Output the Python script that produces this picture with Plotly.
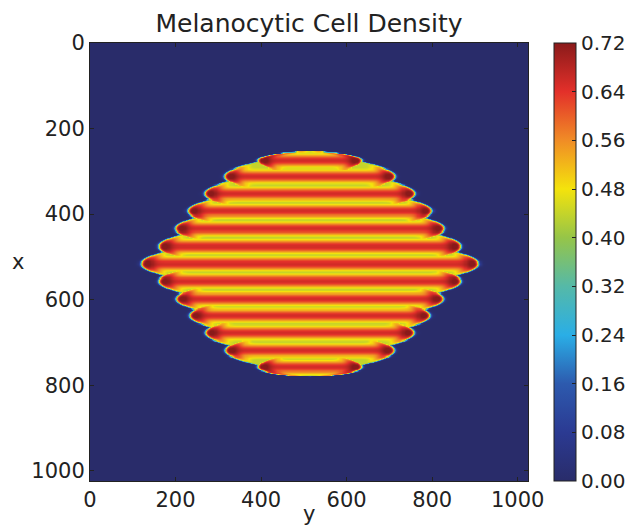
import numpy as np
import plotly.graph_objects as go

# ---- values ----
# centre rows (x) of the 13 red stripes
stripe_rows = [273.6, 311.0, 351.4, 392.0, 433.2, 474.6, 515.1, 555.7, 597.0, 636.0, 676.4, 717.8, 756.8]
# half-length (along y) of each stripe, measured to the blob edge
stripe_half_len = [122, 200, 247, 286, 315, 354, 395, 354, 313, 282, 245, 198, 122]
center_col = 513          # y of the pattern's axis of symmetry
stripe_spacing = 40.4
gap_level = 0.44          # density between stripes
stripe_level = 0.655      # density on a stripe's axis
tip_boost = 0.08          # extra density at stripe tips
edge_height = 21          # half thickness of the outer stripes

cbar_ticks = [0.00, 0.08, 0.16, 0.24, 0.32, 0.40, 0.48, 0.56, 0.64, 0.72]
axis_ticks = [0, 200, 400, 600, 800, 1000]
domain = 1024
n = 410

# ---- build the density field ----
coords = (np.arange(n) + 0.5) * domain / n
R, C = np.meshgrid(coords, coords, indexing="ij")
u = np.abs(C - center_col)


def sig(a):
    return 1.0 / (1.0 + np.exp(-np.clip(a, -40, 40)))


val = np.zeros_like(R)
last = len(stripe_rows) - 1
for k, (r0, hl) in enumerate(zip(stripe_rows, stripe_half_len)):
    d = R - r0
    ext = hl - 0.065 * d ** 2
    if k in (0, last):
        outer = (d < 0) if k == 0 else (d > 0)
        t = np.clip(1 - (d / edge_height) ** 2, 0, 1)
        ell = np.where(np.abs(d) < edge_height, hl * np.sqrt(t),
                       -(np.abs(d) - edge_height) * 20)
        ext = np.where(outer, ell, ext)
    q = ext - u
    env = sig(q / 2.3)
    T = np.exp(-((q - 14) / 18) ** 2)
    width = stripe_spacing * (1 + 0.4 * T)
    p = np.abs(np.cos(np.clip(np.pi * d / width, -np.pi / 2, np.pi / 2))) ** 1.4
    level = stripe_level + tip_boost * T
    v = (gap_level + (level - gap_level) * p) * env
    val = np.maximum(val, v)

z = np.round(np.minimum(val, 0.72), 3)

colorscale = [
    [0.000, "#292c6a"],
    [0.111, "#2b3a92"],
    [0.222, "#2d5aae"],
    [0.333, "#2aaee6"],
    [0.444, "#55b9a8"],
    [0.556, "#96c548"],
    [0.667, "#f4e30c"],
    [0.778, "#f08c26"],
    [0.889, "#e3302a"],
    [1.000, "#8a1a1a"],
]

font = dict(family="DejaVu Sans", size=21, color="#222222")
cbar_font = dict(family="DejaVu Sans", size=20, color="#222222")

# the page body has an 8px default margin, so the figure is laid out 8px smaller
W, H = 625, 519
L_M, T_M = 82, 35
PLOT = 438

fig = go.Figure(
    go.Heatmap(
        x=coords,
        y=coords,
        z=z,
        zmin=0,
        zmax=0.72,
        colorscale=colorscale,
        zsmooth="best",
        colorbar=dict(
            x=(554 - 90) / PLOT,
            xanchor="left",
            xpad=0,
            ypad=0,
            y=0.5,
            yanchor="middle",
            len=1,
            lenmode="fraction",
            thickness=22,
            thicknessmode="pixels",
            outlinewidth=1,
            outlinecolor="#222222",
            tickvals=cbar_ticks,
            ticktext=[f"{t:.2f}" for t in cbar_ticks],
            ticks="inside",
            ticklen=4,
            tickcolor="#222222",
            tickfont=cbar_font,
        ),
    )
)

axis_common = dict(
    tickvals=axis_ticks,
    ticks="inside",
    ticklen=4,
    tickcolor="#222222",
    showline=True,
    linecolor="#222222",
    linewidth=1,
    mirror="ticks",
    showgrid=False,
    zeroline=False,
    tickfont=font,
    automargin=False,
)

fig.update_xaxes(range=[0, domain], **axis_common)
fig.update_yaxes(range=[domain, 0], **axis_common)

fig.update_layout(
    width=W,
    height=H,
    margin=dict(l=L_M, r=W - L_M - PLOT, t=T_M, b=H - T_M - PLOT, autoexpand=False),
    paper_bgcolor="white",
    plot_bgcolor="#292c6a",
    title=dict(
        text="Melanocytic Cell Density",
        font=dict(family="DejaVu Sans", size=25, color="#222222"),
        x=(L_M + PLOT / 2) / W,
        xanchor="center",
        y=1 - 15 / H,
        yanchor="middle",
        yref="container",
    ),
    annotations=[
        dict(text="x", x=(18 - 90) / PLOT, y=0.5, xref="paper", yref="paper",
             xanchor="center", yanchor="middle", showarrow=False, font=font),
        dict(text="y", x=0.5, y=(481 - 514) / PLOT, xref="paper", yref="paper",
             xanchor="center", yanchor="middle", showarrow=False, font=font),
    ],
)

fig.write_html("out.html")
